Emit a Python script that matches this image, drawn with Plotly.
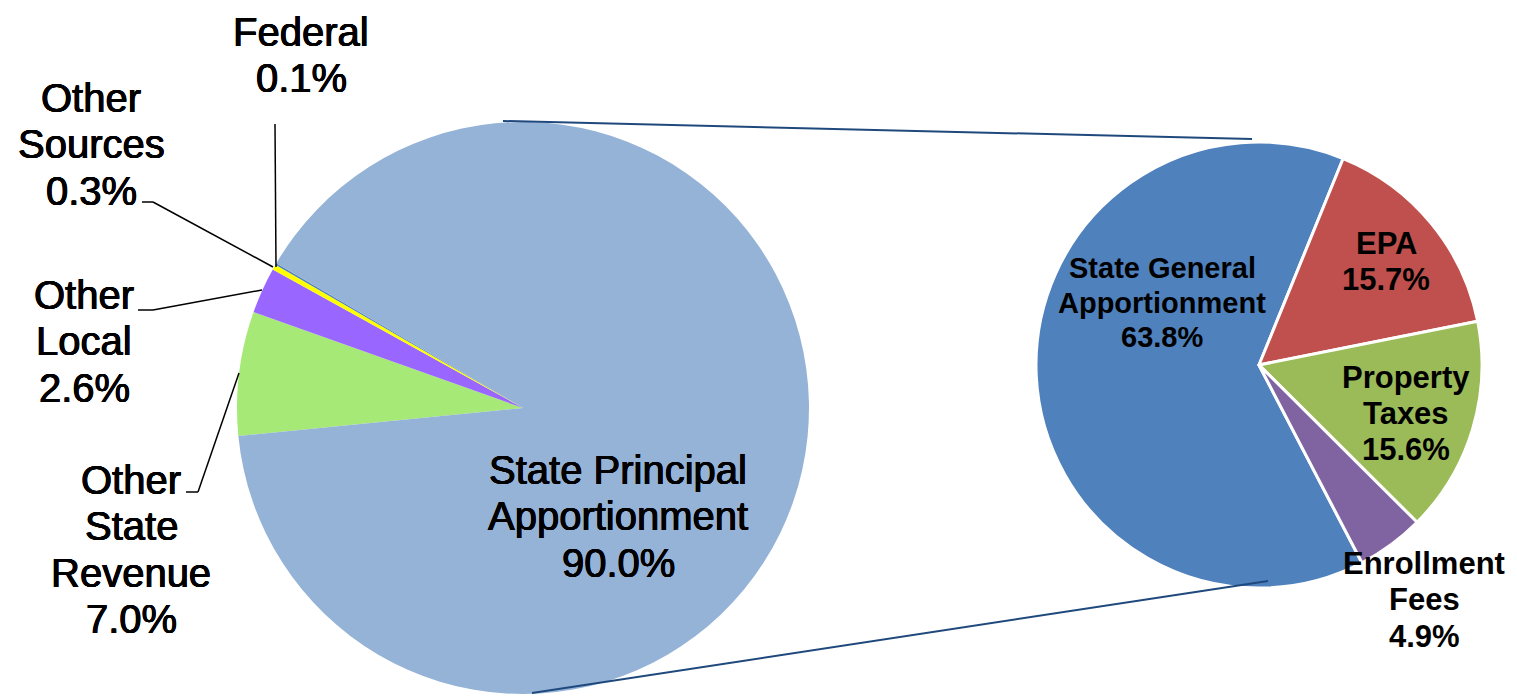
import plotly.graph_objects as go

W, H = 1517, 700

# ---------------- data ----------------
left_categories = ["Other State Revenue", "Other Local", "Other Sources", "Federal",
                   "State Principal Apportionment"]
left_values = [7.0, 2.6, 0.3, 0.1, 90.0]
left_label_lines = [["Other", "State", "Revenue"], ["Other", "Local"], ["Other", "Sources"],
                    ["Federal"], ["State Principal", "Apportionment"]]

right_categories = ["State General Apportionment", "EPA", "Property Taxes", "Enrollment Fees"]
right_values = [63.8, 15.7, 15.6, 4.9]
right_label_lines = [["State General", "Apportionment"], ["EPA"], ["Property", "Taxes"],
                     ["Enrollment", "Fees"]]

# ---------------- styles ----------------
left_colors = ["#A6E977", "#9966FF", "#FFFF00", "#4F81BD", "#95B3D7"]
right_colors = ["#4F81BD", "#C0504D", "#9BBB59", "#8064A2"]
FONT = "Liberation Sans, Arial, sans-serif"
THICK = "0.5px 0px 0px black, -0.5px 0px 0px black, 0px 0.4px 0px black, 0px -0.4px 0px black"

def px(x):
    return x / W

def py(y):
    return 1 - y / H

# pie geometry (pixels)
L_CX, L_CY, L_R = 523, 408, 286
R_CX, R_CY, R_R = 1259, 365, 223

fig = go.Figure()
fig.add_trace(go.Pie(
    labels=left_categories, values=left_values, sort=False,
    direction="clockwise", rotation=264.4,
    marker=dict(colors=left_colors, line=dict(width=0)),
    textinfo="none", hoverinfo="label+percent", showlegend=False,
    domain=dict(x=[px(L_CX - L_R), px(L_CX + L_R)], y=[py(L_CY + L_R), py(L_CY - L_R)]),
))
fig.add_trace(go.Pie(
    labels=right_categories, values=right_values, sort=False,
    direction="clockwise", rotation=152.5,
    marker=dict(colors=right_colors, line=dict(width=3, color="white")),
    textinfo="none", hoverinfo="label+percent", showlegend=False,
    domain=dict(x=[px(R_CX - R_R), px(R_CX + R_R)], y=[py(R_CY + R_R), py(R_CY - R_R)]),
))

annotations = []

# label placements (x centre, y of first line, font size, line height), pixels
left_pos = [(131, 480, 40, 46.3), (84, 295, 40, 46.3), (91, 98, 40, 46.3),
            (301, 32, 40, 46.3), (618, 470, 40, 46.3)]
right_pos = [(1162, 268, 29, 34.5), (1386, 243, 31, 36), (1406, 377, 31, 36),
             (1424, 563, 31, 36.5)]

def add_label(lines, value, x, y0, size, lh, bold):
    allines = lines + [f"{value:.1f}%"]
    for i, t in enumerate(allines):
        txt = f"<b>{t}</b>" if bold else t
        font = dict(family=FONT, size=size, color="black")
        if not bold:
            font["shadow"] = THICK
        annotations.append(dict(
            x=px(x), y=py(y0 + i * lh), xref="paper", yref="paper",
            text=txt, showarrow=False, xanchor="center", yanchor="middle",
            font=font,
        ))

for lines, v, (x, y0, s, lh) in zip(left_label_lines, left_values, left_pos):
    add_label(lines, v, x, y0, s, lh, False)
for lines, v, (x, y0, s, lh) in zip(right_label_lines, right_values, right_pos):
    add_label(lines, v, x, y0, s, lh, True)

shapes = []

def seg(x0, y0, x1, y1, color="black", width=1.5):
    shapes.append(dict(type="line", xref="paper", yref="paper",
                       x0=px(x0), y0=py(y0), x1=px(x1), y1=py(y1),
                       line=dict(color=color, width=width)))

# leader lines
seg(275, 124, 276, 267)                            # Federal
seg(142, 202, 153, 202); seg(153, 202, 273, 267)   # Other Sources
seg(138, 310, 153, 310); seg(153, 310, 262, 290)   # Other Local
seg(239, 373, 198, 492); seg(198, 492, 186, 492)   # Other State Revenue

# connectors between pies
seg(503, 121, 1252, 139, color="#1F497D", width=2)
seg(532, 693, 1268, 581, color="#1F497D", width=2)

fig.update_layout(
    width=W, height=H, margin=dict(l=0, r=0, t=0, b=0),
    paper_bgcolor="white", plot_bgcolor="white",
    annotations=annotations, shapes=shapes,
)

fig.write_html("out.html", config={"displayModeBar": False},
               post_script="document.body.style.margin='0';document.body.style.overflow='hidden';")
